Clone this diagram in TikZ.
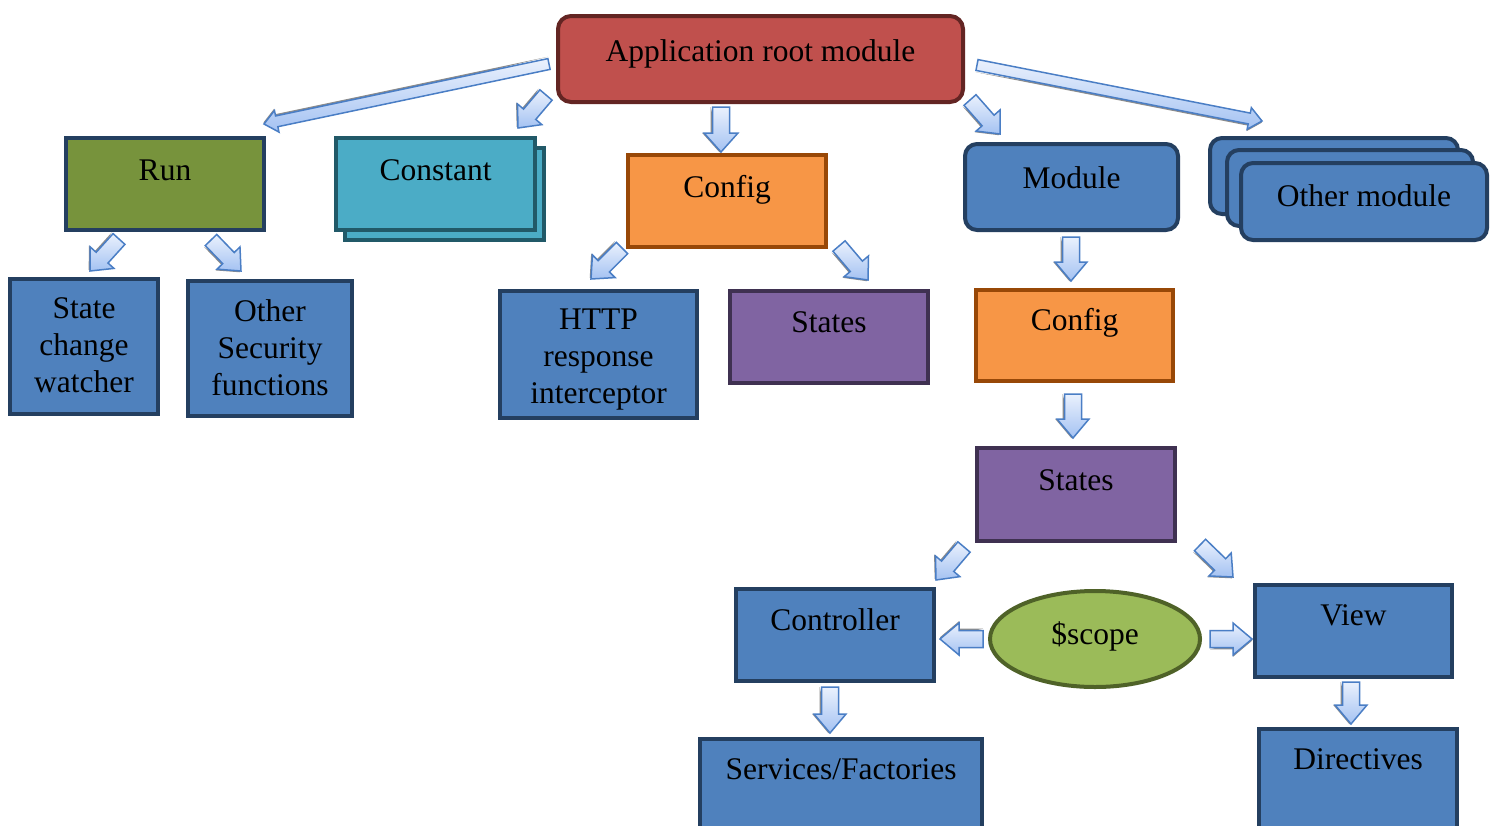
\documentclass[tikz,border=0pt]{standalone}
\usepackage{fontspec}
\setmainfont{Liberation Serif}
\usetikzlibrary{calc,shapes.geometric}

\definecolor{rootfill}{HTML}{C0504D}
\definecolor{rootedge}{HTML}{632523}
\definecolor{runfill}{HTML}{77933C}
\definecolor{navyedge}{HTML}{243F60}
\definecolor{tealfill}{HTML}{4BACC6}
\definecolor{tealedge}{HTML}{215968}
\definecolor{orangefill}{HTML}{F79646}
\definecolor{orangeedge}{HTML}{984807}
\definecolor{bluefill}{HTML}{4F81BD}
\definecolor{purplefill}{HTML}{8064A2}
\definecolor{purpleedge}{HTML}{3F3151}
\definecolor{limefill}{HTML}{9BBB59}
\definecolor{limeedge}{HTML}{4F6228}
\definecolor{arrowlight}{HTML}{EAF1FD}
\definecolor{arrowdark}{HTML}{A4C2F2}
\definecolor{arrowedge}{HTML}{4A7EC5}

\tikzset{
  box/.style={rectangle, line width=4pt, anchor=north west, inner sep=0pt, outer sep=0pt},
  bluebox/.style={box, draw=navyedge, fill=bluefill},
  redbox/.style={box, draw=rootedge, fill=rootfill, rounded corners=13pt},
  greenbox/.style={box, draw=navyedge, fill=runfill},
  tealbox/.style={box, draw=tealedge, fill=tealfill},
  orangebox/.style={box, draw=orangeedge, fill=orangefill},
  purplebox/.style={box, draw=purpleedge, fill=purplefill},
  modbox/.style={bluebox, rounded corners=12pt},
  lbl/.style={font=\fontsize{31.5}{37}\selectfont, inner sep=0pt, anchor=base, text=black},
  mlbl/.style={lbl, anchor=north, align=center},
  fatarrow/.style={draw=arrowedge, line width=1.5pt, line join=miter,
    top color=arrowlight, bottom color=arrowdark},
  arrowshade/.style={fill=black!45, draw=none},
}

% block arrow from tail coordinate #1 to tip coordinate #2;
% #3 half shaft width, #4 half head width, #5 head length (all in pt)
\newcommand\fatarrow[5]{%
  \path let \p1=(#1), \p2=(#2) in \pgfextra{%
    \pgfmathsetmacro\faang{atan2(\y2-\y1,\x2-\x1)}%
    \pgfmathsetmacro\falen{veclen(\x2-\x1,\y2-\y1)}%
    \xdef\faang{\faang}\xdef\falen{\falen}%
    \xdef\fax{\x1}\xdef\fay{\y1}};
  \begin{scope}[shift={(\fax,\fay)}, rotate=\faang]
    \path[arrowshade] (0pt,-#3pt-1.8pt) -- ({\falen pt-#5pt},-#3pt-1.8pt)
      -- ({\falen pt-#5pt},-#4pt-1.8pt) -- (\falen pt,-1.8pt) -- (\falen pt,0pt) -- cycle;
    \path[fatarrow] (0pt,-#3pt) -- ({\falen pt-#5pt},-#3pt) -- ({\falen pt-#5pt},-#4pt)
      -- (\falen pt,0pt) -- ({\falen pt-#5pt},#4pt) -- ({\falen pt-#5pt},#3pt)
      -- (0pt,#3pt) -- cycle;
  \end{scope}
}

\begin{document}
\begin{tikzpicture}[x=1pt, y=-1pt]
\useasboundingbox (0,0) rectangle (1498,825);
\clip (0,0) rectangle (1498,825);
\fill[white] (0,0) rectangle (1498,825);

% ---- boxes ----
\node[redbox, minimum width=405pt, minimum height=86pt] (root) at (558,16) {};
\node[greenbox, minimum width=198pt, minimum height=92pt] (run) at (66,138) {};
\node[tealbox, minimum width=199pt, minimum height=92pt] (constback) at (345,148) {};
\node[tealbox, minimum width=199pt, minimum height=92pt] (const) at (336,138) {};
\node[orangebox, minimum width=198pt, minimum height=92pt] (config) at (628,155) {};
\node[modbox, minimum width=213pt, minimum height=86pt] (module) at (965,144) {};
\node[modbox, minimum width=248pt, minimum height=76pt] (otherc) at (1210,138) {};
\node[modbox, minimum width=246pt, minimum height=76pt] (otherb) at (1227,150) {};
\node[modbox, minimum width=246pt, minimum height=77pt] (other) at (1241,163) {};
\node[bluebox, minimum width=148pt, minimum height=135pt] (scw) at (10,279) {};
\node[bluebox, minimum width=164pt, minimum height=135pt] (osf) at (188,281) {};
\node[bluebox, minimum width=197pt, minimum height=127pt] (http) at (500,291) {};
\node[purplebox, minimum width=198pt, minimum height=92pt] (states) at (730,291) {};
\node[orangebox, minimum width=197pt, minimum height=91pt] (mconfig) at (976,290) {};
\node[purplebox, minimum width=198pt, minimum height=93pt] (mstates) at (977,448) {};
\node[bluebox, minimum width=198pt, minimum height=92pt] (ctrl) at (736,589) {};
\node[bluebox, minimum width=197pt, minimum height=92pt] (view) at (1255,585) {};
\node[bluebox, minimum width=282pt, minimum height=110pt] (svc) at (700,739) {};
\node[bluebox, minimum width=198pt, minimum height=110pt] (dir) at (1259,729) {};
\node[ellipse, draw=limeedge, fill=limefill, line width=4pt, inner sep=0pt, outer sep=0pt,
      minimum width=210pt, minimum height=96pt] (sc) at (1095,639) {};

% ---- labels ----
\node[lbl] (rootlbl) at ($(root.north)+(0,45)$) {Application root module};
\node[lbl] (runlbl) at ($(run.north)+(0,42)$) {Run};
\node[lbl] (constlbl) at ($(const.north)+(0,42)$) {Constant};
\node[lbl] (configlbl) at ($(config.north)+(0,42)$) {Config};
\node[lbl] (modulelbl) at ($(module.north)+(0,44)$) {Module};
\node[lbl] (otherlbl) at ($(other.north)+(0,43)$) {Other module};
\node[mlbl] (scwlbl) at ($(scw.north)+(0,18)$) {State\\change\\watcher};
\node[mlbl] (osflbl) at ($(osf.north)+(0,18)$) {Other\\Security\\functions};
\node[mlbl] (httplbl) at ($(http.north)+(0,18)$) {HTTP\\response\\interceptor};
\node[lbl] (stateslbl) at ($(states.north)+(0,41)$) {States};
\node[lbl] (mconfiglbl) at ($(mconfig.north)+(0,40)$) {Config};
\node[lbl] (mstateslbl) at ($(mstates.north)+(0,42)$) {States};
\node[lbl] (ctrllbl) at ($(ctrl.north)+(0,41)$) {Controller};
\node[lbl] (viewlbl) at ($(view.north)+(0,40)$) {View};
\node[lbl] (svclbl) at ($(svc.north)+(0,40)$) {Services/Factories};
\node[lbl] (dirlbl) at ($(dir.north)+(0,40)$) {Directives};
\node[lbl] (sclbl) at ($(sc.center)+(0,5)$) {\$scope};

% ---- arrow end points ----
\coordinate (a1s) at (549,64);   \coordinate (a1e) at (264,124);
\coordinate (a2s) at (546,95);   \coordinate (a2e) at (518,128);
\coordinate (a3s) at (721,107);  \coordinate (a3e) at (721,152);
\coordinate (a4s) at (970,100);  \coordinate (a4e) at (1000,134);
\coordinate (a5s) at (977,65);   \coordinate (a5e) at (1262,121);
\coordinate (a6s) at (119,239);  \coordinate (a6e) at (90,271);
\coordinate (a7s) at (211,240);  \coordinate (a7e) at (241,271);
\coordinate (a8s) at (622,248);  \coordinate (a8e) at (591,279);
\coordinate (a9s) at (839,246);  \coordinate (a9e) at (868,280);
\coordinate (a10s) at (1071,237); \coordinate (a10e) at (1071,281);
\coordinate (a11s) at (1073,394); \coordinate (a11e) at (1073,438);
\coordinate (a12s) at (964,547);  \coordinate (a12e) at (936,580);
\coordinate (a13s) at (1200,545); \coordinate (a13e) at (1233,577);
\coordinate (a14s) at (983,639);  \coordinate (a14e) at (940,639);
\coordinate (a15s) at (1210,639); \coordinate (a15e) at (1252,639);
\coordinate (a16s) at (830,687);  \coordinate (a16e) at (830,733);
\coordinate (a17s) at (1351,682); \coordinate (a17e) at (1351,724);

% ---- block arrows ----
\fatarrow{a1s}{a1e}{5.5}{11}{13}
\fatarrow{a5s}{a5e}{5.5}{11}{13}
\fatarrow{a2s}{a2e}{8}{16}{18}
\fatarrow{a3s}{a3e}{8.5}{17}{19}
\fatarrow{a4s}{a4e}{8}{16}{18}
\fatarrow{a6s}{a6e}{8}{16}{18}
\fatarrow{a7s}{a7e}{8}{16}{18}
\fatarrow{a8s}{a8e}{8}{16}{18}
\fatarrow{a9s}{a9e}{8}{16}{18}
\fatarrow{a10s}{a10e}{8.5}{16}{19}
\fatarrow{a11s}{a11e}{8.5}{16}{19}
\fatarrow{a12s}{a12e}{8}{16}{18}
\fatarrow{a13s}{a13e}{8}{16}{18}
\fatarrow{a14s}{a14e}{8.5}{16}{19}
\fatarrow{a15s}{a15e}{8.5}{16}{19}
\fatarrow{a16s}{a16e}{8.5}{16}{19}
\fatarrow{a17s}{a17e}{8.5}{16}{19}
\end{tikzpicture}
\end{document}
